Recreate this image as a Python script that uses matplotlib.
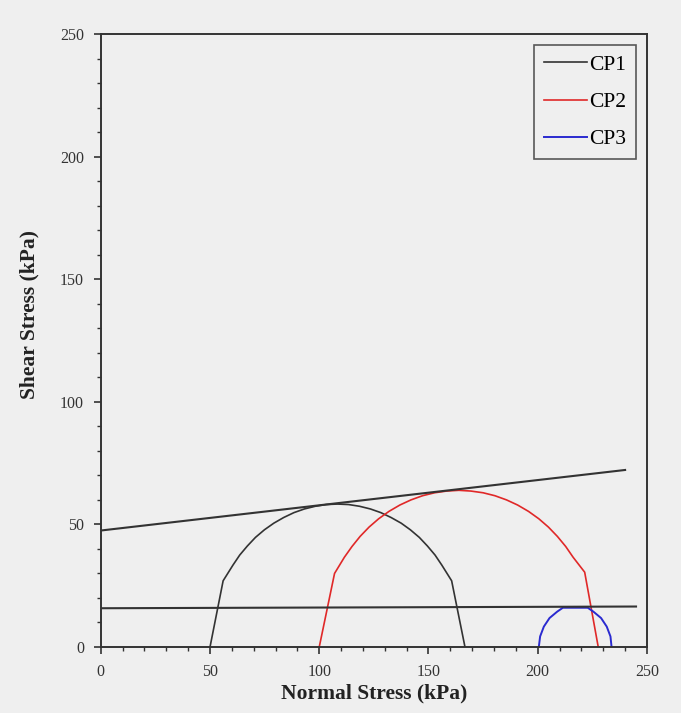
import matplotlib
matplotlib.use("Agg")
import matplotlib.pyplot as plt
from matplotlib.ticker import MultipleLocator

# Mohr circles (normal stress, shear stress), kPa
cp1_sigma = [50.0, 56.0, 60.5, 63.6, 67.1, 70.8, 74.9, 79.2, 83.7, 88.4, 93.2, 98.2, 103.2, 108.3,
             113.4, 118.4, 123.4, 128.2, 132.9, 137.5, 141.7, 145.8, 149.5, 153.0, 156.1, 160.6, 166.7]
cp1_tau = [0.0, 27.0, 33.4, 37.5, 41.2, 44.7, 47.8, 50.5, 52.8, 54.8, 56.3, 57.4, 58.1, 58.3,
           58.1, 57.4, 56.3, 54.8, 52.8, 50.5, 47.8, 44.7, 41.2, 37.5, 33.4, 27.0, 0.0]

cp2_sigma = [100.0, 107.0, 111.5, 115.0, 118.7, 122.8, 127.2, 131.9, 136.9, 142.0, 147.3, 152.8, 158.3, 163.9,
             169.4, 175.0, 180.4, 185.7, 190.8, 195.8, 200.5, 204.9, 209.0, 212.8, 216.2, 221.5, 227.7]
cp2_tau = [0.0, 30.0, 36.6, 41.0, 45.1, 48.9, 52.3, 55.3, 57.9, 60.0, 61.7, 62.9, 63.6, 63.9,
           63.6, 62.9, 61.7, 60.0, 57.9, 55.3, 52.3, 48.9, 45.1, 41.0, 36.6, 30.5, 0.0]

cp3_sigma = [200.5, 201.1, 202.8, 205.4, 208.9, 211.5, 222.9, 225.5, 229.0, 231.6, 233.3, 233.8]
cp3_tau = [0.0, 4.3, 8.3, 11.8, 14.4, 16.0, 16.0, 14.4, 11.8, 8.3, 4.3, 0.0]

# envelope lines
env_upper_sigma = [0.0, 240.0]
env_upper_tau = [47.5, 72.2]
env_lower_sigma = [0.0, 245.0]
env_lower_tau = [15.8, 16.5]

bg = "#efefef"
plt.rcParams["font.family"] = ["Liberation Serif", "DejaVu Serif"]

fig = plt.figure(figsize=(6.81, 7.13), dpi=100, facecolor=bg)
ax = fig.add_axes([0.148, 0.0926, 0.802, 0.8596], facecolor=bg)

ax.plot(cp1_sigma, cp1_tau, color="#333333", lw=1.2, label="CP1")
ax.plot(cp2_sigma, cp2_tau, color="#e02828", lw=1.2, label="CP2")
ax.plot(cp3_sigma, cp3_tau, color="#2a2ad0", lw=1.4, label="CP3")
ax.plot(env_upper_sigma, env_upper_tau, color="#333333", lw=1.5)
ax.plot(env_lower_sigma, env_lower_tau, color="#333333", lw=1.5)

ax.set_xlim(0, 250)
ax.set_ylim(0, 250)
ax.xaxis.set_major_locator(MultipleLocator(50))
ax.yaxis.set_major_locator(MultipleLocator(50))
ax.xaxis.set_minor_locator(MultipleLocator(10))
ax.yaxis.set_minor_locator(MultipleLocator(10))
ax.tick_params(which="major", direction="out", length=5, width=1.2, colors="#333333",
               labelsize=11.5, labelcolor="#333333", pad=7)
ax.tick_params(which="minor", direction="out", length=3, width=1.0, colors="#333333")
for s in ax.spines.values():
    s.set_color("#333333")
    s.set_linewidth(1.4)

ax.set_xlabel("Normal Stress (kPa)", fontsize=15.5, fontweight="bold", color="#222222", labelpad=3)
ax.set_ylabel("Shear Stress (kPa)", fontsize=15.5, fontweight="bold", color="#222222")
ax.yaxis.set_label_coords(-0.112, 0.542)

leg = ax.legend(loc="upper right", fontsize=15.5, frameon=True, fancybox=False,
                facecolor=bg, edgecolor="#333333", handlelength=2.0,
                handletextpad=0.1, borderpad=0.45, labelspacing=0.8,
                borderaxespad=0, bbox_to_anchor=(0.98, 0.982))
leg.get_frame().set_linewidth(1.2)

fig.savefig("out.png", dpi=100, facecolor=bg)
